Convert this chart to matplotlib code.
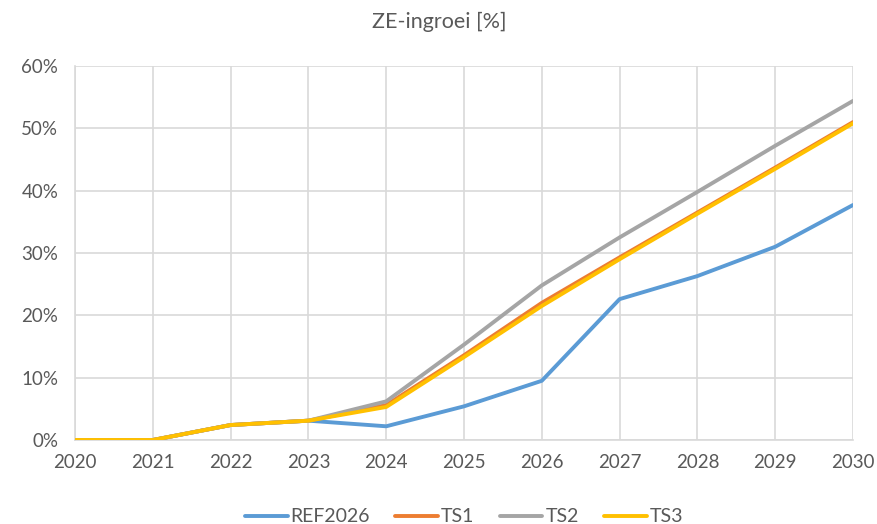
import matplotlib.pyplot as plt
from matplotlib.ticker import FuncFormatter

plt.rcParams['font.family'] = ['Lato', 'DejaVu Sans']

years = list(range(2020, 2031))
ref2026 = [0.0, 0.0, 2.4, 3.1, 2.2, 5.4, 9.5, 22.6, 26.3, 31.0, 37.7]
ts1 = [0.0, 0.0, 2.4, 3.1, 5.6, 13.6, 22.0, 29.3, 36.5, 43.7, 51.0]
ts2 = [0.0, 0.0, 2.4, 3.1, 6.2, 15.3, 24.8, 32.5, 39.8, 47.2, 54.4]
ts3 = [0.0, 0.0, 2.4, 3.1, 5.3, 13.3, 21.5, 29.0, 36.3, 43.5, 50.8]

series = [("REF2026", ref2026, "#5B9BD5"),
          ("TS1", ts1, "#ED7D31"),
          ("TS2", ts2, "#A5A5A5"),
          ("TS3", ts3, "#FFC000")]

txt = "#595959"
grid = "#D9D9D9"

fig = plt.figure(figsize=(8.78, 5.24), dpi=100)
ax = fig.add_axes([75/878, 1 - 440/524, (853-75)/878, (440-66)/524])

for name, vals, col in series:
    ax.plot(years, vals, color=col, lw=2.8, label=name, solid_capstyle="round", zorder=3)

ax.set_xlim(2020, 2030)
ax.set_ylim(0, 60)
ax.set_xticks(years)
ax.set_yticks(range(0, 61, 10))
ax.yaxis.set_major_formatter(FuncFormatter(lambda v, p: "{:.0f}%".format(v)))
ax.grid(True, color=grid, lw=1.2)
for s in ["top", "right"]:
    ax.spines[s].set_visible(False)
ax.spines["left"].set_color(grid)
ax.spines["bottom"].set_color(grid)
ax.spines["left"].set_linewidth(1.2)
ax.spines["bottom"].set_linewidth(1.2)
ax.tick_params(length=0, labelsize=13.5, colors=txt, pad=10)
ax.tick_params(axis="y", pad=12)

fig.suptitle("ZE-ingroei [%]", y=1 - 22/524, va="center", fontsize=15.5, color=txt)

leg = ax.legend(loc="center", bbox_to_anchor=(0.5, (440 - 517) / 374), ncol=4,
                frameon=False, fontsize=14, handlelength=2.2, handletextpad=0.15,
                columnspacing=1.3, labelcolor=txt)

fig.savefig("out.png", dpi=100)
